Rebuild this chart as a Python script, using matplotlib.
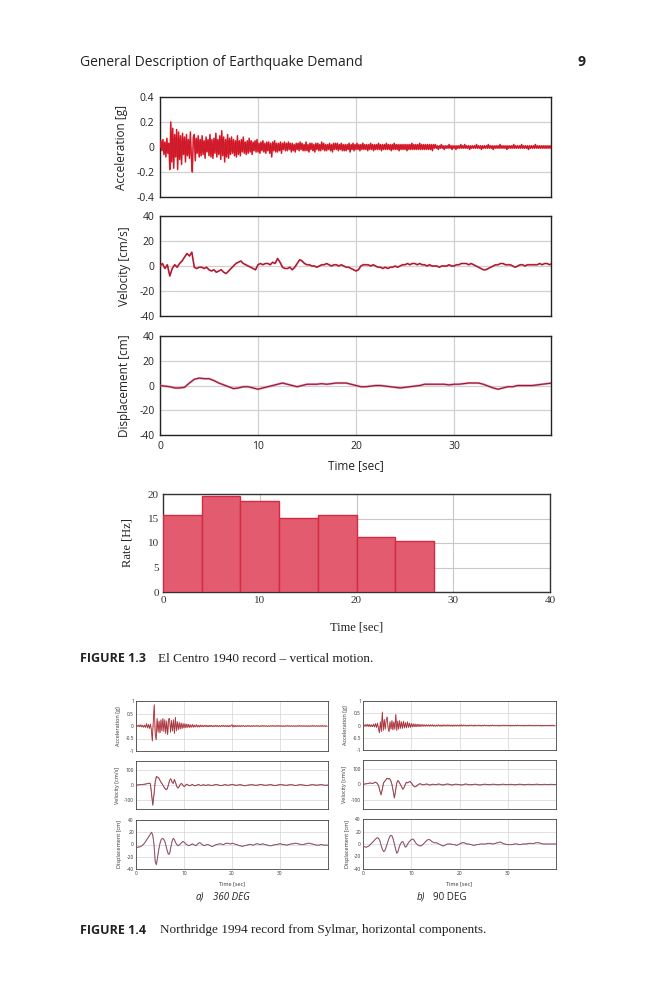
import numpy as np
import matplotlib
matplotlib.use('Agg')
import matplotlib.pyplot as plt

plt.rcParams['axes.unicode_minus'] = False

# ---------------- DATA ----------------
# El Centro 1940 vertical: acceleration in 0.01 g, sampled every 0.1 s
ec_dt_acc = 0.1
ec_acc = [
    0, 5, -3, 6, -6, 4, -8, 7, -5, 3,
    -18, 20, -12, 15, -17, 10, -8, 14, -18, 12,
    -10, 9, -14, 11, -6, 8, -12, 10, -7, 6,
    -9, 12, -8, -20, 8, 10, -11, 7, -5, 9,
    -8, 6, -7, 9, -6, 5, -9, 8, -4, 6,
    -7, 10, -8, 6, -9, 7, -5, 11, -8, 6,
    -6, 9, -10, 13, -7, 8, -12, 6, -8, 10,
    -9, 7, -6, 8, -5, 6, -7, 5, -8, 9,
    -6, 5, -7, 6, -4, 8, -5, 4, -6, 5,
    -5, 7, -4, 5, -6, 4, -3, 5, -4, 6,
    -4, 3, -5, 4, -3, 5, -4, 3, -5, 4,
    -3, 4, -5, 3, -8, 4, -3, 5, -4, 3,
    -4, 3, -3, 4, -5, 3, -2, 4, -3, 3,
    -3, 4, -2, 3, -4, 3, -3, 2, -4, 3,
    -2, 3, -3, 4, -2, 3, -3, 2, -3, 4,
    -3, 2, -4, 3, -2, 3, -3, 2, -4, 3,
    -2, 3, -3, 2, -3, 4, -2, 3, -3, 2,
    -3, 2, -2, 3, -3, 2, -4, 3, -2, 3,
    -2, 3, -3, 2, -2, 3, -3, 2, -3, 2,
    -3, 2, -2, 3, -4, 2, -2, 3, -3, 2,
    -2, 3, -2, 2, -3, 2, -2, 3, -2, 2,
    -2, 2, -3, 2, -2, 3, -2, 2, -3, 2,
    -2, 2, -2, 3, -2, 2, -3, 2, -2, 2,
    -2, 3, -2, 2, -2, 2, -3, 2, -2, 3,
    -2, 2, -2, 2, -3, 2, -2, 2, -2, 2,
    -2, 2, -3, 2, -2, 2, -2, 3, -2, 2,
    -2, 2, -2, 2, -2, 3, -2, 2, -2, 2,
    -2, 2, -2, 2, -2, 2, -2, 2, -3, 2,
    -1, 2, -1, 1, -2, 1, -1, 2, -1, 1,
    -2, 1, -1, 1, -1, 2, -1, 1, -2, 1,
    -1, 1, -2, 1, -1, 1, -1, 2, -1, 1,
    -1, 2, -1, 1, -1, 1, -2, 1, -1, 1,
    -1, 1, -1, 2, -1, 1, -1, 1, -2, 1,
    -1, 1, -1, 1, -1, 2, -1, 1, -1, 1,
    -2, 1, -1, 1, -1, 1, -1, 2, -1, 1,
    -1, 1, -1, 1, -2, 1, -1, 1, -1, 1,
    -1, 2, -1, 1, -1, 1, -1, 1, -1, 2,
    -1, 1, -1, 1, -1, 1, -2, 1, -1, 1,
    -1, 1, -1, 2, -1, 1, -1, 1, -1, 1,
    -1, 1, -1, 1, -1, 1, -1, 1, -1, 1,
]
# velocity cm/s every 0.25 s
ec_dt_vel = 0.25
ec_vel = [
    0, 2, -2, 1, -8, -2, 1, -1, 2, 4, 7, 10, 8, 11, -1, -2, -1, -1, -2, -1,
    -3, -4, -3, -5, -4, -3, -5, -6, -4, -2, 0, 2, 3, 4, 2, 1, 0, -1, -2, -3,
    1, 2, 1, 2, 2, 1, 3, 2, 6, 3, -1, -2, -2, -1, -3, -1, 2, 5, 4, 2,
    1, 1, 0, 0, -1, 0, 1, 1, 2, 1, 0, 1, 1, 0, 1, 0, -1, -1, -2, -3,
    -4, -3, 0, 1, 1, 1, 0, 1, 0, -1, -1, -2, -1, -2, -1, -1, 0, -1, 0, 1,
    1, 2, 1, 2, 2, 1, 2, 1, 1, 0, 1, 0, 0, 0, -1, 0, 0, 0, 1, 0,
    0, 1, 1, 2, 2, 2, 1, 2, 1, 0, -1, -2, -3, -3, -2, -1, 0, 1, 1, 2,
    2, 1, 1, 1, 0, -1, 0, 1, 1, 0, 1, 1, 1, 1, 1, 2, 1, 2, 2, 1, 2,
]
# displacement cm every 0.5 s
ec_dt_disp = 0.5
ec_disp = [
    0, -0.5, -1, -2, -2, -1.5, 2, 5, 6, 5.5, 5.5, 4, 2, 0.5, -1, -2.5, -2, -1, -1, -2,
    -3, -2, -1, 0, 1, 2, 1, 0, -1, 0, 1, 1, 1, 1.5, 1, 1.5, 2, 2, 2, 1,
    0, -1, -1, -0.5, 0, 0, -0.5, -1, -1.5, -2, -1.5, -1, -0.5, 0, 1, 1, 1, 1, 1, 0.5,
    1, 1, 1.5, 2, 2, 2, 1, -0.5, -2, -3, -2, -1, -1, 0, 0, 0, 0, 0.5, 1, 1.5, 2,
]
# firing rate histogram
rate_bin_left = [0, 4, 8, 12, 16, 20, 24]
rate_bin_width = 4
rate_hz = [15.8, 19.6, 18.5, 15.2, 15.8, 11.3, 10.4]

# Northridge 1994 Sylmar, 360 DEG: acceleration in 0.01 g every 0.2 s
ns_dt_acc = 0.2
ns360_acc = [
    0, 3, -2, 4, -3, 5, -4, 3, -5, 4,
    -6, 10, -8, 6, -10, 8, -15, -60, 20, 85,
    -30, -55, 30, -25, 20, -28, 25, -20, 30, -22,
    25, -30, 20, -35, 28, 30, -25, 22, -20, 25,
    -30, 35, -20, 18, -15, 14, -12, 12, -10, 10,
    -8, 9, -7, 8, -6, 7, -6, 5, -5, 6,
    -5, 4, -4, 5, -4, 3, -4, 4, -3, 3,
    -3, 3, -2, 3, -3, 2, -3, 3, -2, 2, -3, 2, -2, 3, -2, 2, -3, 2, -2, 2,
    -2, 3, -2, 2, -2, 2, -3, 2, -2, 2,
    5, -4, 3, -3, 2, -2, 2, -2, 2, -2, 2, -1, 2, -2, 1, -2, 2, -1, 2, -2,
    1, -2, 2, -1, 1, -1, 2, -1, 1, -2, 1, -1, 2, -1, 1, -1, 1, -2, 1, -1,
    1, -1, 2, -1, 1, -1, 1, -1, 2, -1, 1, -1, 1, -2, 1, -1, 1, -1, 2, -1,
    1, -1, 1, -1, 1, -2, 1, -1, 1, -1, 2, -1, 1, -1, 1, -1, 1, -1, 1, -2,
    1, -1, 1, -1, 2, -1, 1, -1, 1, -1, 1, -1, 1, -1, 2, -1, 1, -1, 1, -1,
]
ns_dt = 0.25
ns360_vel = [
    0, 1, 0, 2, 3, 2, 4, 5, 6, 8, 10, 12, 8, -60, -130, -60, 20, 55, 50, 45,
    30, 15, 5, -10, -20, -30, -25, 0, 30, 40, 20, 10, 35, 15, -10, -20, -10, 5, 10, 0,
    -10, -5, 5, 2, -3, -5, 0, 3, -2, -5, -3, 0, 3, 0, -4, -2, 2, 0, -3, -1, 1,
    0, -2, -3, -2, 0, 2, 3, 1, -1, -3, -4, -2, 0, 2, 1, -1, -2, 0, 2, 3,
    2, 0, -1, -2, 0, 1, 2, 0, -2, -4, -5, -3, -1, 0, 1, 2, 1, 0, -1, -2,
    -1, 0, 2, 3, 2, 0, -1, -2, -1, 0, 1, 2, 1, -1, -2, -3, -2, 0, 1, 2,
    2, 1, 0, -1, -2, -1, 0, 1, 2, 1, 0, -2, -3, -2, 0, 1, 2, 1, 0, -1,
    -2, -3, -4, -2, 0, 1, 2, 1, 0, -1, -1, 0, 1, 2, 1, 0, -1, -2, -1, 0,
]
ns360_disp = [
    -5, -5, -4, -4, -3, -2, 0, 2, 5, 8, 11, 14, 17, 20, 15, 0, -28, -33, -20, -8,
    2, 8, 10, 9, 5, -2, -10, -16, -15, -5, 5, 10, 8, 3, 0, -2, -1, 1, 3, 5,
    4, 2, 0, -1, -2, -1, 0, 1, 0, -1, -2, 0, 2, 3, 2, 0, -1, -2, -1, 0, 0,
    -1, -2, -3, -3, -2, -1, 0, 0, 1, 1, 1, 0, 0, 1, 2, 2, 2, 1, 1, 2,
    2, 1, 0, 0, -1, -2, -2, -3, -3, -2, -2, -1, -1, 0, 0, 0, -1, -1, 0, 1,
    1, 1, 0, 0, 1, 1, 0, 0, -1, -1, -2, -2, -2, -1, -1, 0, 0, 0, 1, 1,
    1, 0, 0, 0, -1, -1, 0, 0, 1, 1, 1, 2, 2, 2, 1, 1, 0, 0, 0, 0,
    1, 1, 2, 2, 2, 1, 1, 0, 0, -1, -1, -1, -1, 0, 0, -1, -1, -1, -1, -1,
]

# Northridge 1994 Sylmar, 90 DEG
ns90_acc = [
    0, 3, -3, 4, -3, 5, -4, 4, -5, 3,
    -5, 6, -6, 8, -8, 10, -12, -30, 15, -25,
    55, -20, 25, -15, 20, 35, -10, -25, 15, -15,
    20, -18, 15, -15, 45, -20, 18, -15, 20, -12,
    15, -12, 18, -10, 12, -10, 15, -8, 10, -8,
    8, -6, 7, -5, 6, -5, 5, -4, 5, -4,
    4, -3, 4, -3, 3, -3, 3, -2, 3, -3,
    3, -2, 3, -3, 2, -3, 2, -2, 3, -2, 2, -3, 2, -2, 3, -2, 2, -2, 3, -2,
    2, -2, 2, -3, 2, -2, 2, -2, 2, -2,
    2, -2, 3, -2, 2, -1, 2, -2, 1, -2, 2, -1, 2, -1, 1, -2, 2, -1, 1, -1,
    2, -1, 1, -2, 1, -1, 2, -1, 1, -1, 1, -2, 1, -1, 2, -1, 1, -1, 1, -1,
    1, -2, 1, -1, 1, -1, 2, -1, 1, -1, 1, -1, 1, -2, 1, -1, 1, -1, 1, -1,
    2, -1, 1, -1, 1, -1, 1, -2, 1, -1, 1, -1, 2, -1, 1, -1, 1, -1, 1, -1,
    1, -1, 1, -1, 1, -2, 1, -1, 1, -1, 1, -1, 1, -1, 1, -1, 2, -1, 1, -1,
]
ns90_vel = [
    0, 2, 4, 5, 6, 8, 10, 8, 6, 10, 15, 12, 5, -10, -40, -65, -30, 10, 20, 30,
    40, 35, 38, 25, 0, -40, -85, -40, 10, 25, 15, 0, -15, -30, -20, 0, 15, 10, 15, 20,
    10, 0, -10, -15, -12, -5, 0, 5, 3, 0, -2, 0, 2, 3, 0, -3, -2, 0, 2, 0, -1,
    0, 2, 3, 1, -1, -3, -2, 0, 2, 3, 2, 0, -2, -3, -1, 1, 2, 1, 0, -1,
    -2, -3, -1, 1, 3, 2, 0, -1, -2, -1, 0, 1, 2, 1, -1, -2, -3, -2, 0, 1,
    2, 1, 0, -1, -1, 0, 1, 2, 1, 0, -1, -2, -1, 0, 1, 2, 1, 0, -1, -1,
    0, 1, 1, 0, -1, -2, -1, 0, 1, 2, 1, 0, -1, -2, -1, 0, 1, 1, 0, -1,
    -1, 0, 1, 2, 1, 0, -1, -1, 0, 1, 1, 0, -1, 0, 1, 1, 0, 0, 0, 0,
]
ns90_disp = [
    -3, -4, -5, -5, -4, -3, -1, 1, 3, 5, 7, 9, 10, 9, 5, -2, -8, -12, -11, -6,
    0, 6, 11, 14, 13, 8, 0, -8, -15, -12, -5, 0, 3, 4, 0, -5, -4, 0, 3, 5,
    7, 8, 7, 4, 1, -1, -2, -3, -3, -2, 0, 2, 4, 6, 7, 7, 6, 4, 3, 2, 2,
    2, 1, 0, -1, -2, -3, -3, -2, -1, 0, 0, 0, 0, -1, -1, -1, -2, -2, -1, 0,
    1, 2, 2, 2, 1, 0, 0, 0, -1, -1, -2, -2, -2, -1, -1, -1, 0, 0, 0, 0,
    0, 0, 1, 1, 1, 1, 0, 0, 1, 1, 2, 2, 3, 3, 2, 1, 0, 0, -1, -1,
    -1, -1, -1, -1, 0, 0, 0, 0, -1, -1, -1, 0, 0, 0, 0, 0, 1, 1, 1, 1,
    1, 1, 2, 2, 2, 2, 1, 1, 0, 0, 0, 0, 0, 0, 0, 0, 0, 0, 0, 0,
]

# ---------------- FIGURE ----------------
SANS = 'Open Sans'
SERIF = 'Liberation Serif'
RED = '#ee1c25'
MAROON = '#8a1c3c'

fig = plt.figure(figsize=(6.66, 10), dpi=100)


def ax_at(x0, y0, x1, y1):
    return fig.add_axes([x0 / 666, 1 - y1 / 1000, (x1 - x0) / 666, (y1 - y0) / 1000])


def tvec(vals, dt):
    return np.arange(len(vals)) * dt


# header
fig.text(80 / 666, 1 - 62 / 1000, 'General Description of Earthquake Demand',
         family=SANS, fontsize=10, va='center', ha='left', color='#222')
fig.text(586 / 666, 1 - 62 / 1000, '9', family=SANS, fontsize=10,
         fontweight='bold', va='center', ha='right', color='#222')


def style_top(ax, yticks, ylabels, ylabel, show_x, lo, hi):
    ax.set_xlim(0, 39.9)
    ax.set_ylim(lo, hi)
    ax.set_xticks([0, 10, 20, 30])
    ax.set_yticks(yticks)
    ax.set_yticklabels(ylabels, fontsize=7.5, family=SANS, color='#222')
    ax.grid(True, color='#d0d0d0', lw=0.9)
    ax.set_axisbelow(True)
    ax.tick_params(length=0, pad=4)
    if show_x:
        ax.set_xticklabels(['0', '10', '20', '30'], fontsize=7.5, family=SANS, color='#222')
    else:
        ax.set_xticklabels([])
    ax.set_ylabel(ylabel, fontsize=8.5, family=SANS, color='#222', labelpad=6)
    for s in ax.spines.values():
        s.set_color('#222')
        s.set_linewidth(1.0)


# Figure 1.3 - acceleration
a1 = ax_at(160, 97, 551, 197)
acc = np.array(ec_acc) / 100.0
ta = tvec(ec_acc, ec_dt_acc)
a1.plot(ta, acc, color=RED, lw=1.1, zorder=3)
a1.plot(ta, acc, color=MAROON, lw=0.4, alpha=0.55, zorder=4)
style_top(a1, [-0.4, -0.2, 0, 0.2, 0.4], ['-0.4', '-0.2', '0', '0.2', '0.4'],
          'Acceleration [g]', False, -0.4, 0.4)

# velocity
a2 = ax_at(160, 216, 551, 316)
tv = tvec(ec_vel, ec_dt_vel)
a2.plot(tv, ec_vel, color=RED, lw=1.3, alpha=0.8, zorder=3)
a2.plot(tv, ec_vel, color=MAROON, lw=0.7, zorder=4)
style_top(a2, [-40, -20, 0, 20, 40], ['-40', '-20', '0', '20', '40'],
          'Velocity [cm/s]', False, -40, 40)

# displacement
a3 = ax_at(160, 336, 551, 435)
td = tvec(ec_disp, ec_dt_disp)
a3.plot(td, ec_disp, color='#f06080', lw=1.6, alpha=0.7, zorder=3)
a3.plot(td, ec_disp, color=MAROON, lw=0.8, zorder=4)
style_top(a3, [-40, -20, 0, 20, 40], ['-40', '-20', '0', '20', '40'],
          'Displacement [cm]', True, -40, 40)
a3.set_xlabel('Time [sec]', fontsize=8.5, family=SANS, color='#222', labelpad=5.5)

# rate histogram
b = ax_at(163, 494, 550, 592)
b.bar(rate_bin_left, rate_hz, width=rate_bin_width, align='edge',
      color='#e35b6f', edgecolor='#d42a42', linewidth=1.0, zorder=3)
b.set_xlim(0, 40)
b.set_ylim(0, 20)
b.set_xticks([0, 10, 20, 30, 40])
b.set_yticks([0, 5, 10, 15, 20])
b.set_xticklabels(['0', '10', '20', '30', '40'], family=SERIF, fontsize=8, color='#333')
b.set_yticklabels(['0', '5', '10', '15', '20'], family=SERIF, fontsize=8, color='#333')
b.grid(True, color='#c8c8c8', lw=0.8)
b.set_axisbelow(True)
b.tick_params(length=0, pad=3)
b.set_ylabel('Rate [Hz]', family=SERIF, fontsize=9, color='#222', labelpad=10)
b.set_xlabel('Time [sec]', family=SERIF, fontsize=9, color='#222', labelpad=12)
for s in b.spines.values():
    s.set_color('#333')
    s.set_linewidth(1.0)

# caption 1.3
fig.text(80 / 666, 1 - 659 / 1000, 'FIGURE 1.3', family=SANS, fontweight='bold',
         fontsize=9, va='center', ha='left', color='#222')
fig.text(158 / 666, 1 - 659 / 1000, 'El Centro 1940 record \u2013 vertical motion.',
         family=SERIF, fontsize=9.5, va='center', ha='left', color='#222')


# Figure 1.4
def style_small(ax, lo, hi, yticks, ylabels, ylabel, show_x):
    ax.set_xlim(0, 40)
    ax.set_ylim(lo, hi)
    ax.set_xticks([0, 10, 20, 30])
    ax.set_yticks(yticks)
    ax.set_yticklabels(ylabels, fontsize=3.5, family=SANS, color='#333')
    ax.grid(True, color='#d4d4d4', lw=0.5)
    ax.set_axisbelow(True)
    ax.tick_params(length=0, pad=1.5)
    if show_x:
        ax.set_xticklabels(['0', '10', '20', '30'], fontsize=3.5, family=SANS, color='#333')
    else:
        ax.set_xticklabels([])
    ax.set_ylabel(ylabel, fontsize=4, family=SANS, color='#333', labelpad=3)
    for s in ax.spines.values():
        s.set_color('#444')
        s.set_linewidth(0.6)


def small_set(x0, x1, rows, acc_vals, vel_vals, disp_vals):
    (ay0, ay1), (vy0, vy1), (dy0, dy1) = rows
    aa = ax_at(x0, ay0, x1, ay1)
    t = tvec(acc_vals, ns_dt_acc)
    v = np.array(acc_vals) / 100.0
    aa.plot(t, v, color='#e8202c', lw=0.6, zorder=3)
    aa.plot(t, v, color='#555555', lw=0.35, alpha=0.7, zorder=4)
    style_small(aa, -1, 1, [-1, -0.5, 0, 0.5, 1], ['-1', '-0.5', '0', '0.5', '1'],
                'Acceleration [g]', False)
    av = ax_at(x0, vy0, x1, vy1)
    t = tvec(vel_vals, ns_dt)
    av.plot(t, vel_vals, color='#ee3050', lw=0.8, alpha=0.8, zorder=3)
    av.plot(t, vel_vals, color='#555555', lw=0.45, zorder=4)
    style_small(av, -155, 155, [-100, 0, 100], ['-100', '0', '100'], 'Velocity [cm/s]', False)
    ad = ax_at(x0, dy0, x1, dy1)
    t = tvec(disp_vals, ns_dt)
    ad.plot(t, disp_vals, color='#f07090', lw=0.9, alpha=0.7, zorder=3)
    ad.plot(t, disp_vals, color='#555555', lw=0.5, zorder=4)
    style_small(ad, -40, 40, [-40, -20, 0, 20, 40], ['-40', '-20', '0', '20', '40'],
                'Displacement [cm]', True)
    ad.set_xlabel('Time [sec]', fontsize=4, family=SANS, color='#333', labelpad=4)


small_set(136, 328, [(701, 751), (761, 809), (820, 869)], ns360_acc, ns360_vel, ns360_disp)
small_set(363, 556, [(701, 750), (760, 809), (819, 869)], ns90_acc, ns90_vel, ns90_disp)

fig.text(196 / 666, 1 - 897 / 1000, 'a)', family=SANS, style='italic', fontsize=7,
         va='center', ha='left', color='#222')
fig.text(213 / 666, 1 - 897 / 1000, '360 DEG', family=SANS, style='italic', fontsize=7,
         va='center', ha='left', color='#222')
fig.text(417 / 666, 1 - 897 / 1000, 'b)', family=SANS, style='italic', fontsize=7,
         va='center', ha='left', color='#222')
fig.text(433 / 666, 1 - 897 / 1000, '90 DEG', family=SANS, fontsize=7,
         va='center', ha='left', color='#222')

fig.text(80 / 666, 1 - 930 / 1000, 'FIGURE 1.4', family=SANS, fontweight='bold',
         fontsize=9, va='center', ha='left', color='#222')
fig.text(160 / 666, 1 - 930 / 1000, 'Northridge 1994 record from Sylmar, horizontal components.',
         family=SERIF, fontsize=9.5, va='center', ha='left', color='#222')

fig.savefig('out.png', dpi=100)
